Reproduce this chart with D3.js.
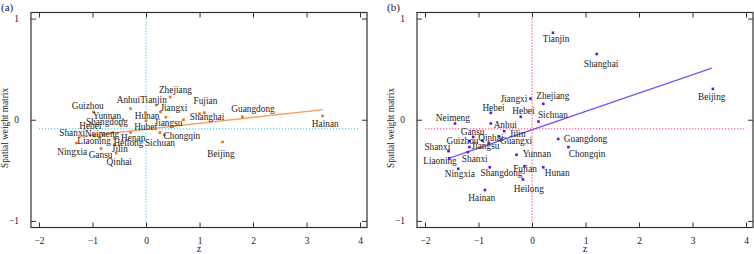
<!DOCTYPE html>
<meta charset="utf-8">
<script src="https://d3js.org/d3.v7.min.js"></script>
<style>
	body{
		margin:0;
		background:#fff;
		font-family:"Liberation Serif","Times New Roman",serif;
	}
	svg text{
		fill:#222;
	}
</style>
<div id="chart"></div>
<script>

// ---- panel (a) ----
var namesA = ["Zhejiang","Tianjin","Anhui","Guizhou","Jiangxi","Fujian","Shanghai","","Guangdong","Hainan",
	"Hunan","Yunnan","Shangdong","Hubei","Jiangsu","Chongqin","Sichuan","Henan","Heilong","Jilin",
	"Qinhai","Gansu","Ningxia","Liaoning","Shanxi","Neimeng","Hebei","Beijing"]
var zA = [0.45,0.19,-0.29,-0.98,0.27,1.09,0.70,1.0,1.80,3.30,
	-0.01,-0.43,-0.47,0.0,0.37,0.34,0.26,-0.29,-0.59,-0.59,
	-0.56,-0.84,-1.30,-0.87,-0.96,-0.79,-0.62,1.43]
var wA = [0.225,0.145,0.11,0.077,0.077,0.07,0.0,0.06,0.03,0.038,
	0.07,0.0,-0.06,-0.01,0.025,-0.15,-0.127,-0.127,-0.18,-0.245,
	-0.33,-0.285,-0.23,-0.176,-0.16,-0.15,-0.127,-0.22]
// label anchors, in data units
var labZA = [0.55,0.14,-0.33,-1.09,0.52,1.11,1.14,0,2.0,3.35,
	0.02,-0.73,-0.73,-0.01,0.42,0.67,0.26,-0.24,-0.33,-0.49,
	-0.50,-0.85,-1.38,-0.97,-1.38,-0.82,-1.04,1.40]
var labWA = [0.30,0.20,0.20,0.143,0.117,0.186,0.03,0,0.104,-0.035,
	0.04,0.044,-0.018,-0.067,-0.03,-0.16,-0.23,-0.176,-0.225,-0.285,
	-0.42,-0.35,-0.315,-0.21,-0.133,-0.136,-0.06,-0.34]
var fitA = {a:-0.094, b:0.0589, from:-1.265, to:3.31}
var meanWA = -0.09

// ---- panel (b) ----
var namesB = ["Tianjin","Shanghai","Beijing","Jiangxi","Zhejiang","Hebei","Hebei","Sichuan","Neimeng","Anhui",
	"Gansu","Qinhai","Jilin","Guangxi","Guizhou","Jiangsu","","Shanxi","Shanxi","Liaoning",
	"Ningxia","Shangdong","Yunnan","Fujian","Hunan","Heilong","Hainan","Guangdong","Chongqin"]
var zB = [0.39,1.21,3.38,-0.03,0.21,-0.77,-0.21,0.12,-1.44,-0.77,
	-1.10,-0.62,-0.52,-0.81,-1.17,-1.17,-0.93,-1.56,-1.20,-1.55,
	-1.38,-0.79,-0.29,-0.14,0.21,-0.17,-0.88,0.49,0.68]
var wB = [0.86,0.65,0.305,0.209,0.157,0.068,0.029,-0.018,-0.037,-0.037,
	-0.17,-0.163,-0.113,-0.228,-0.212,-0.27,-0.205,-0.31,-0.32,-0.38,
	-0.485,-0.47,-0.346,-0.46,-0.47,-0.59,-0.695,-0.19,-0.27]
var labZB = [0.45,1.29,3.36,-0.34,0.39,-0.72,-0.16,0.39,-1.48,-0.50,
	-1.11,-0.77,-0.27,-0.30,-1.30,-0.87,0,-1.77,-1.07,-1.72,
	-1.35,-0.57,0.09,-0.13,0.47,-0.06,-0.94,1.0,1.03]
var labWB = [0.80,0.555,0.23,0.21,0.235,0.123,0.09,0.05,0.015,-0.045,
	-0.116,-0.18,-0.143,-0.21,-0.21,-0.255,0,-0.27,-0.39,-0.41,
	-0.535,-0.525,-0.337,-0.485,-0.525,-0.68,-0.77,-0.185,-0.337]
var fitB = {a:-0.099, b:0.181, from:-1.57, to:3.36}
var meanWB = -0.09

var xTicks = [-2,-1,0,1,2,3,4]
var yTicks = [-1,0,1]

var W = 754, H = 254
var svg = d3.select("#chart").append("svg").attr("width",W).attr("height",H)

drawPanel({left:31, tag:"(a)", names:namesA, z:zA, w:wA, lz:labZA, lw:labWA, fit:fitA, meanW:meanWA,
	dot:"#f07000", line:"#f4a060", guide:"#3cc4ea"})
drawPanel({left:417, tag:"(b)", names:namesB, z:zB, w:wB, lz:labZB, lw:labWB, fit:fitB, meanW:meanWB,
	dot:"#5a14f5", line:"#8050ff", guide:"#f0307a"})

function drawPanel(cfg){
	var top = 12.5, bottom = 227.5
	var x = d3.scaleLinear().domain([-2.15,4.13]).range([cfg.left, cfg.left+336])
	var y = d3.scaleLinear().domain([-1.065,1.06]).range([bottom, top])
	var g = svg.append("g")

	// reference lines at z=0 and mean w
	g.append("line")
		.attr("x1",x(-2)).attr("x2",x(4)).attr("y1",y(cfg.meanW)).attr("y2",y(cfg.meanW))
		.attr("stroke",cfg.guide).attr("stroke-width",1).attr("stroke-dasharray","1.2 1.8")
	g.append("line")
		.attr("x1",x(0)).attr("x2",x(0)).attr("y1",y(1)).attr("y2",y(-1))
		.attr("stroke",cfg.guide).attr("stroke-width",1).attr("stroke-dasharray","1.2 1.8")

	// frame + inward ticks on all four sides
	g.append("rect")
		.attr("x",x.range()[0]).attr("y",top)
		.attr("width",x.range()[1]-x.range()[0]).attr("height",bottom-top)
		.attr("fill","none").attr("stroke","#333").attr("stroke-width",1.2)

	g.append("g").attr("transform","translate(0,"+bottom+")")
		.call(d3.axisBottom(x).tickValues(xTicks).tickSize(-5).tickPadding(10).tickFormat(d3.format("d")))
	g.append("g").attr("transform","translate(0,"+top+")")
		.call(d3.axisTop(x).tickValues(xTicks).tickSize(-5).tickFormat(""))
	g.append("g").attr("transform","translate("+x.range()[0]+",0)")
		.call(d3.axisLeft(y).tickValues(yTicks).tickSize(-5).tickPadding(12).tickFormat(d3.format("d")))
	g.append("g").attr("transform","translate("+x.range()[1]+",0)")
		.call(d3.axisRight(y).tickValues(yTicks).tickSize(-5).tickFormat(""))

	g.selectAll(".domain").remove()
	g.selectAll(".tick line").attr("stroke","#333").attr("stroke-width",1)
	g.selectAll(".tick text")
		.style("font-family","Liberation Serif, serif").style("font-size","9.5px").attr("fill","#222")

	// regression line
	g.append("line")
		.attr("x1",x(cfg.fit.from)).attr("y1",y(cfg.fit.a+cfg.fit.b*cfg.fit.from))
		.attr("x2",x(cfg.fit.to)).attr("y2",y(cfg.fit.a+cfg.fit.b*cfg.fit.to))
		.attr("stroke",cfg.line).attr("stroke-width",1.3)

	// points
	g.selectAll(".dot")
		.data(cfg.z)
		.enter()
		.append("rect")
		.attr("x",function(d){ return x(d)-1.3 })
		.attr("y",function(d,i){ return y(cfg.w[i])-1.3 })
		.attr("width",2.6).attr("height",2.6)
		.attr("fill",cfg.dot)

	// province labels
	g.selectAll(".lab")
		.data(cfg.names)
		.enter()
		.append("text")
		.text(function(d){ return d })
		.attr("x",function(d,i){ return x(cfg.lz[i]) })
		.attr("y",function(d,i){ return y(cfg.lw[i]) })
		.attr("dy","0.35em")
		.attr("text-anchor","middle")
		.style("font-size","9.3px")

	// axis titles
	g.append("text").text("z")
		.attr("x",(x.range()[0]+x.range()[1])/2).attr("y",252)
		.attr("text-anchor","middle").style("font-size","10px")
	g.append("text").text("Spatial weight matrix")
		.attr("transform","translate("+(cfg.left-23)+",128) rotate(-90)")
		.attr("text-anchor","middle").style("font-size","9.3px")
	g.append("text").text(cfg.tag)
		.attr("x",cfg.left-30).attr("y",11)
		.style("font-size","11px")
}
</script>
